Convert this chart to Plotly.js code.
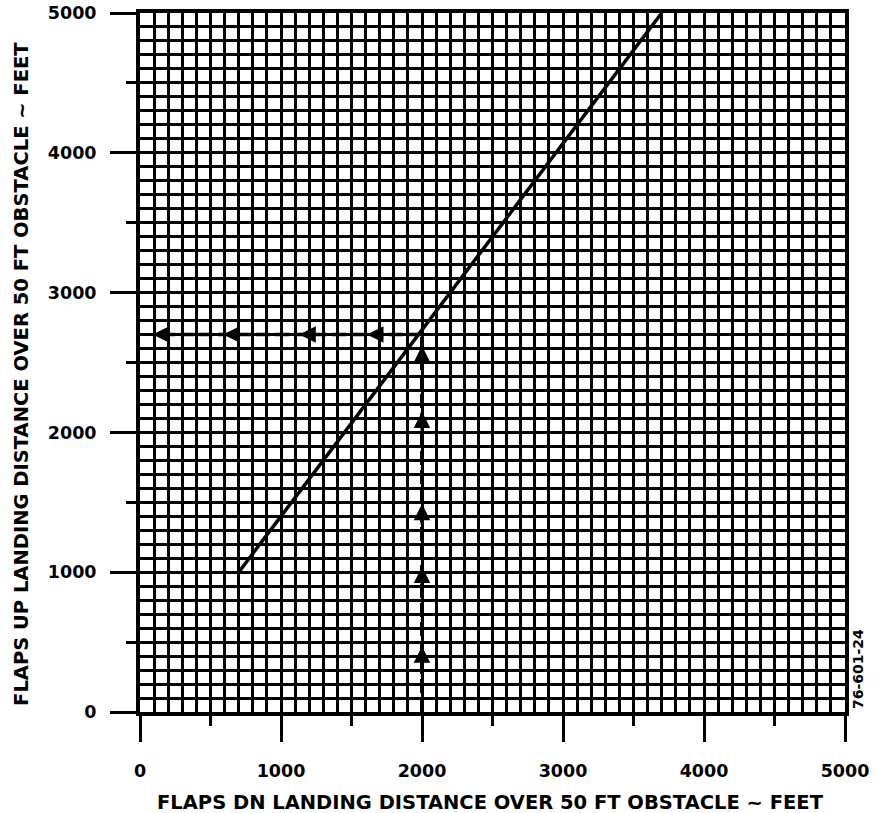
<!DOCTYPE html>
<html>
<head>
<meta charset="utf-8">
<script src="https://cdn.plot.ly/plotly-3.0.1.min.js"></script>
<style>html,body{margin:0;padding:0;background:#fff;}#chart{width:879px;height:813px;}</style>
</head>
<body>
<div id="chart"></div>
<script>
// Guide line: flaps DN distance (x) vs flaps UP distance (y), feet
const guideX = [700, 3700];
const guideY = [1000, 5000];

// Example path: up from 2000 ft, then left at 2700 ft
const exampleUpX = [2000, 2000];
const exampleUpY = [0, 2700];
const exampleLeftX = [2000, 100];
const exampleLeftY = [2700, 2700];

// Arrowhead tip positions along the example path
const upArrowTipsY = [470, 1040, 1490, 2150, 2620];
const leftArrowTipsX = [1610, 1130, 590, 90];

const axisRange = [0, 5000];
const chartId = "76-601-24";
const xTitle = "FLAPS DN LANDING DISTANCE OVER 50 FT OBSTACLE ~ FEET";
const yTitle = "FLAPS UP LANDING DISTANCE OVER 50 FT OBSTACLE ~ FEET";

const FAM = "DejaVu Sans, Arial, sans-serif";
const tickF = {family: FAM, size: 17.5, color: "#000", weight: "bold"};
const titleF = {family: FAM, size: 19.5, color: "#000", weight: "bold"};

const traces = [
  {x: guideX, y: guideY, mode: "lines", line: {color: "#000", width: 3.5}, hoverinfo: "skip", cliponaxis: false},
  {x: exampleUpX, y: exampleUpY, mode: "lines", line: {color: "#000", width: 4, dash: "14px,5px"}, hoverinfo: "skip", cliponaxis: false},
  {x: exampleLeftX, y: exampleLeftY, mode: "lines", line: {color: "#000", width: 3.5, dash: "14px,5px"}, hoverinfo: "skip", cliponaxis: false},
  {x: [], y: [], xaxis: "x2", yaxis: "y2", mode: "lines", hoverinfo: "skip"}
];

const annotations = [];
upArrowTipsY.forEach(t => annotations.push({
  x: exampleUpX[0], y: t, ax: exampleUpX[0], ay: t - 160, xref: "x", yref: "y", axref: "x", ayref: "y",
  text: "", showarrow: true, arrowhead: 2, arrowsize: 1.1, arrowwidth: 3, arrowcolor: "#000"
}));
leftArrowTipsX.forEach(t => annotations.push({
  x: t, y: exampleLeftY[0], ax: t + 140, ay: exampleLeftY[0], xref: "x", yref: "y", axref: "x", ayref: "y",
  text: "", showarrow: true, arrowhead: 2, arrowsize: 1.1, arrowwidth: 3, arrowcolor: "#000"
}));
annotations.push({
  text: xTitle, xref: "paper", yref: "paper", x: 0.497, y: -0.130, xanchor: "center", yanchor: "middle",
  showarrow: false, font: titleF
});
annotations.push({
  text: yTitle, xref: "paper", yref: "paper", x: -0.168, y: 0.483, xanchor: "center", yanchor: "middle",
  textangle: -90, showarrow: false, font: titleF
});
annotations.push({
  text: chartId, xref: "paper", yref: "paper", x: 1.0184, y: 0.0615, xanchor: "center", yanchor: "middle",
  textangle: -90, showarrow: false, font: {family: FAM, size: 14, color: "#000", weight: "bold"}
});

const mainAxis = {
  range: axisRange, tickmode: "linear", tick0: 0, dtick: 1000,
  ticks: "outside", ticklen: 26, tickwidth: 3, tickcolor: "#000",
  showgrid: true, gridcolor: "#000", gridwidth: 3,
  minor: {dtick: 100, showgrid: true, gridcolor: "#000", gridwidth: 3, ticks: ""},
  zeroline: false, showline: true, linecolor: "#000", linewidth: 4, mirror: true,
  tickfont: tickF, fixedrange: true
};
const xa = Object.assign({}, mainAxis, {ticklabelstandoff: 14});
const ya = Object.assign({}, mainAxis, {ticklabelstandoff: 10});

const shortAxis = {
  range: axisRange, tickmode: "linear", tick0: 0, dtick: 500,
  ticks: "outside", ticklen: 13, tickwidth: 3, tickcolor: "#000",
  showgrid: false, zeroline: false, showline: false, showticklabels: false, fixedrange: true
};

const layout = {
  width: 879, height: 813,
  margin: {l: 140, r: 34, t: 13, b: 101},
  paper_bgcolor: "#fff", plot_bgcolor: "#fff",
  showlegend: false,
  xaxis: xa, yaxis: ya,
  xaxis2: Object.assign({overlaying: "x", anchor: "y", side: "bottom"}, shortAxis),
  yaxis2: Object.assign({overlaying: "y", anchor: "x", side: "left"}, shortAxis),
  annotations: annotations
};

Plotly.newPlot("chart", traces, layout, {displayModeBar: false, staticPlot: true});
</script>
</body>
</html>
